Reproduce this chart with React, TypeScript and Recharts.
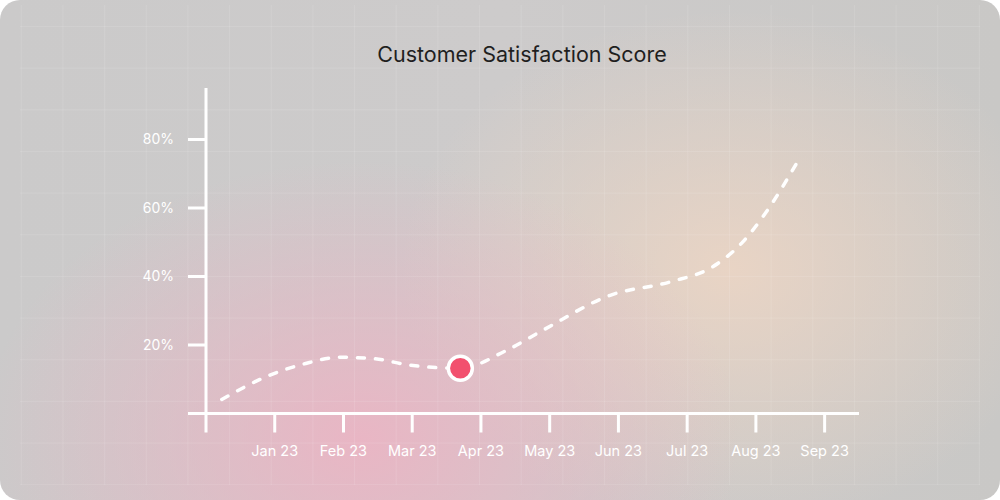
import React from "react";
import { LineChart, Line, XAxis, YAxis, ReferenceDot } from "recharts";

const TITLE = "Customer Satisfaction Score";

// x positions on a month index scale (0 = origin, 1 = Jan 23 ... 9 = Sep 23)
const xPositions = [0.23, 0.93, 1.45, 1.95, 2.45, 2.97, 3.7, 4.35, 4.9, 5.88, 6.75, 7.37, 7.81, 8.15, 8.6];
const scoreValues = [4.1, 11.2, 14.6, 16.4, 16.0, 14.1, 13.2, 18.2, 24.3, 34.5, 38.4, 42.8, 50.1, 58.8, 73.3];

const monthTicks = [0, 1, 2, 3, 4, 5, 6, 7, 8, 9];
const monthLabels = ["", "Jan 23", "Feb 23", "Mar 23", "Apr 23", "May 23", "Jun 23", "Jul 23", "Aug 23", "Sep 23"];

const yTicks = [0, 20, 40, 60, 80];
const yTickLabels = ["", "20%", "40%", "60%", "80%"];

const highlightX = 3.7;
const highlightY = 13.2;

const data = xPositions.map((x, i) => ({ x, score: scoreValues[i] }));

const FONT = "Inter, 'Noto Sans', sans-serif";

export default function App() {
  return (
    <div
      style={{
        position: "fixed",
        left: 0,
        top: 0,
        width: 1000,
        height: 500,
        background: "#ffffff",
      }}
    >
      <div
        style={{
          position: "absolute",
          left: 0,
          top: 0,
          width: 1000,
          height: 500,
          borderRadius: 20,
          overflow: "hidden",
          background:
            "radial-gradient(ellipse 380px 280px at 360px 440px, rgba(238,178,195,0.85), rgba(238,178,195,0) 100%), radial-gradient(ellipse 330px 260px at 730px 270px, rgba(238,214,196,0.85), rgba(238,214,196,0) 100%), linear-gradient(90deg, #cbcaca 0%, #cdcbcb 50%, #c9c8c6 100%)",
        }}
      >
        <div
          style={{
            position: "absolute",
            left: 20,
            top: 5,
            width: 960,
            height: 480,
            backgroundImage:
              "linear-gradient(rgba(255,255,255,0.10) 1px, transparent 1px), linear-gradient(90deg, rgba(255,255,255,0.10) 1px, transparent 1px)",
            backgroundSize: "41.67px 41.67px",
            backgroundPosition: "0px 21px, 0.8px 0px",
          }}
        />
        <div
          style={{
            position: "absolute",
            left: 0,
            top: 41,
            width: 1044,
            textAlign: "center",
            fontFamily: FONT,
            fontSize: 21.5,
            color: "#1f1f1f",
            lineHeight: "26px",
          }}
        >
          {TITLE}
        </div>
        <div style={{ position: "absolute", left: 0, top: 0 }}>
          <LineChart
            width={1000}
            height={500}
            data={data}
            margin={{ top: 88, right: 141, bottom: 0, left: 0 }}
          >
            <XAxis
              dataKey="x"
              type="number"
              domain={[0, 9.5]}
              ticks={monthTicks}
              interval={0}
              height={86.5}
              tickSize={19}
              tickMargin={13}
              tickFormatter={(v: number) => monthLabels[Math.round(v)] ?? ""}
              axisLine={{ stroke: "#ffffff", strokeWidth: 3 }}
              tickLine={{ stroke: "#ffffff", strokeWidth: 3 }}
              tick={{ fill: "#ffffff", fontSize: 14.5, fontFamily: FONT }}
            />
            <YAxis
              type="number"
              domain={[0, 95]}
              ticks={yTicks}
              interval={0}
              width={206}
              tickSize={18}
              tickMargin={14}
              tickFormatter={(v: number) => yTickLabels[yTicks.indexOf(v)] ?? ""}
              axisLine={{ stroke: "#ffffff", strokeWidth: 3 }}
              tickLine={{ stroke: "#ffffff", strokeWidth: 3 }}
              tick={{ fill: "#ffffff", fontSize: 14, fontFamily: FONT }}
            />
            <Line
              type="monotone"
              dataKey="score"
              stroke="#ffffff"
              strokeWidth={3.5}
              strokeDasharray="7 11"
              strokeLinecap="round"
              dot={false}
              activeDot={false}
              isAnimationActive={false}
            />
            <ReferenceDot
              x={highlightX}
              y={highlightY}
              r={12}
              fill="#f2506e"
              stroke="#ffffff"
              strokeWidth={3.5}
              ifOverflow="visible"
            />
          </LineChart>
        </div>
      </div>
    </div>
  );
}
